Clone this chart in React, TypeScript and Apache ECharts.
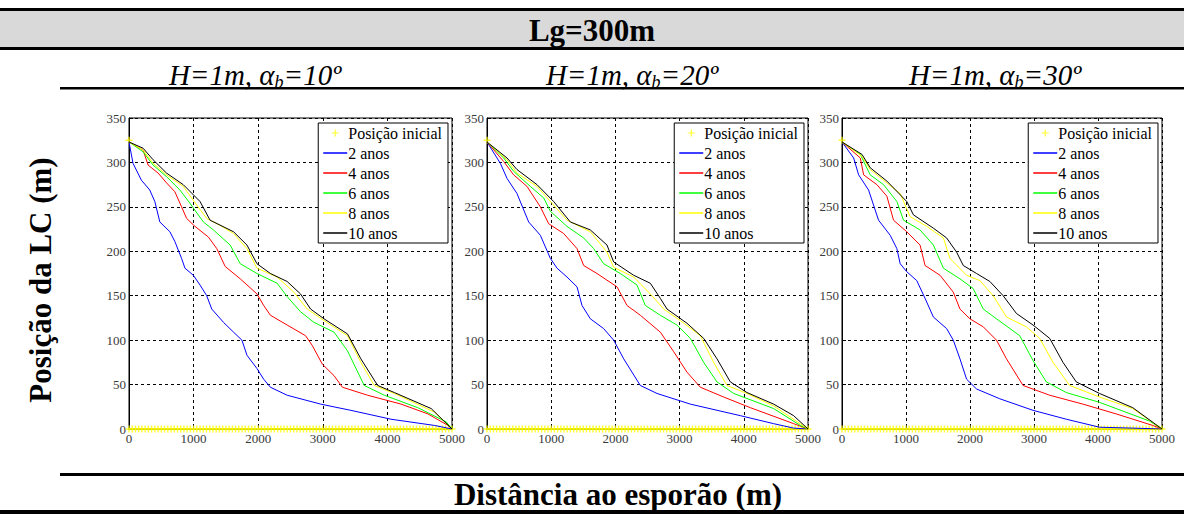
import React, { useEffect, useRef } from "react";
import * as echarts from "echarts";

// ---------- DATA ----------
const seriesNames = ["Posição inicial", "2 anos", "4 anos", "6 anos", "8 anos", "10 anos"];
const seriesColors = ["#ffff00", "#0000ff", "#ff0000", "#00ff00", "#ffff00", "#000000"];
const panelAngles = ["10º", "20º", "30º"];
const xTickMax = 5000;
const yTickMax = 350;

// initial shoreline: y = 0 along the whole domain, plus start point
const initialStep = 50;
const initialStart: number[] = [0, 325];

// Panel 1 : alpha_b = 10
const p1_2anos = [[0,323],[62,299],[192,280],[321,269],[400,256],[477,233],[633,222],[710,211],[814,192],[866,181],[996,173],[1100,162],[1203,150],[1281,135],[1463,120],[1618,109],[1748,100],[1826,83],[1981,68],[2085,56],[2189,47],[2448,38],[2967,28],[3434,21],[4056,11],[4730,4],[5000,0]];
const p1_4anos = [[0,323],[218,314],[296,297],[451,288],[581,277],[710,267],[814,250],[892,237],[1022,228],[1229,216],[1359,203],[1488,183],[1722,169],[1981,152],[2085,139],[2189,128],[2448,117],[2733,105],[2837,94],[2992,73],[3174,60],[3304,47],[3693,38],[4212,28],[4627,17],[4938,4],[5000,0]];
const p1_6anos = [[0,323],[218,312],[373,297],[581,284],[788,269],[944,254],[1151,233],[1307,224],[1566,207],[1722,186],[1981,175],[2293,164],[2448,149],[2655,132],[2863,120],[3174,109],[3382,88],[3641,49],[3952,38],[4471,24],[4912,8],[5000,0]];
const p1_8anos = [[0,323],[218,314],[373,299],[581,286],[840,273],[1048,252],[1203,237],[1437,228],[1618,220],[1826,203],[1981,181],[2293,171],[2552,154],[2759,135],[3019,122],[3382,105],[3589,75],[3797,49],[4108,40],[4730,19],[5000,0]];
const p1_10anos = [[0,323],[218,316],[373,303],[581,288],[840,275],[1100,256],[1255,235],[1618,222],[1826,207],[1981,186],[2189,175],[2448,166],[2655,152],[2811,135],[3019,124],[3382,107],[3589,79],[3849,49],[4108,41],[4678,23],[5000,0]];

// Panel 2 : alpha_b = 20
const p2_2anos = [[0,323],[208,299],[312,282],[467,265],[649,233],[831,218],[987,192],[1090,181],[1246,171],[1402,160],[1480,139],[1610,124],[1817,113],[1973,100],[2129,79],[2388,49],[2648,40],[3167,28],[3946,15],[4465,6],[4777,1],[5000,0]];
const p2_4anos = [[0,323],[260,301],[415,286],[623,273],[831,250],[961,231],[1194,220],[1402,203],[1506,184],[1713,175],[2025,160],[2181,139],[2388,128],[2700,109],[2908,87],[3115,64],[3323,47],[3686,36],[4102,24],[4777,6],[5000,0]];
const p2_6anos = [[0,323],[260,305],[415,290],[675,273],[883,260],[987,245],[1246,228],[1506,215],[1661,203],[1817,186],[2077,175],[2336,162],[2466,139],[2700,128],[2959,117],[3167,102],[3375,75],[3582,53],[3842,40],[4465,23],[4881,4],[5000,0]];
const p2_8anos = [[0,323],[312,303],[467,288],[779,273],[1038,252],[1246,235],[1610,222],[1869,199],[1973,182],[2285,171],[2544,152],[2752,135],[3011,122],[3323,105],[3530,75],[3738,49],[4050,40],[4465,26],[5000,0]];
const p2_10anos = [[0,323],[312,305],[467,292],[779,275],[1038,256],[1298,233],[1610,224],[1869,207],[1973,188],[2285,173],[2544,164],[2700,147],[2804,135],[3115,119],[3375,102],[3582,79],[3790,53],[4050,41],[4465,28],[4777,15],[5000,0]];

// Panel 3 : alpha_b = 30
const p3_2anos = [[0,323],[182,305],[260,286],[415,269],[571,235],[753,218],[857,203],[909,186],[1012,177],[1168,167],[1298,147],[1428,126],[1635,113],[1739,100],[1843,79],[1947,56],[2103,45],[2466,34],[2985,21],[3505,11],[4024,2],[4543,1],[5000,0]];
const p3_4anos = [[0,323],[286,305],[338,286],[545,275],[701,262],[805,235],[1012,222],[1220,207],[1298,184],[1532,173],[1739,154],[1843,135],[1999,124],[2207,115],[2414,100],[2570,79],[2829,49],[3245,38],[3764,28],[4284,17],[4855,4],[5000,0]];
const p3_6anos = [[0,323],[286,309],[441,286],[649,275],[857,256],[961,235],[1220,224],[1428,207],[1584,181],[1843,169],[2051,158],[2207,135],[2414,124],[2777,105],[2985,77],[3193,53],[3505,41],[4024,30],[4803,9],[5000,0]];
const p3_8anos = [[0,323],[312,307],[441,292],[701,277],[909,265],[1064,239],[1324,228],[1584,215],[1687,192],[1947,173],[2155,167],[2362,150],[2570,126],[2881,115],[3089,102],[3297,75],[3557,49],[4024,36],[4543,23],[5000,0]];
const p3_10anos = [[0,323],[312,309],[441,294],[701,279],[1012,256],[1116,241],[1428,226],[1635,215],[1791,199],[1895,184],[2103,175],[2311,166],[2518,150],[2726,130],[2985,117],[3245,102],[3453,75],[3660,53],[4024,40],[4543,24],[5000,0]];

const panelCurves = [
  [p1_2anos, p1_4anos, p1_6anos, p1_8anos, p1_10anos],
  [p2_2anos, p2_4anos, p2_6anos, p2_8anos, p2_10anos],
  [p3_2anos, p3_4anos, p3_6anos, p3_8anos, p3_10anos],
];

// ---------- LAYOUT ----------
const W = 1184;
const H = 514;
const grids = [
  { left: 129, width: 323 },
  { left: 487, width: 321 },
  { left: 842, width: 320 },
];
const gridTop = 118;
const gridHeight = 311;
const subtitleX = [255, 632, 995];
const serif = "Liberation Serif";
const plusPath = "path://M4,0H6V4H10V6H6V10H4V6H0V4H4Z";
// legend icons inside a 24x14 box (tiny corner dots fix the bounding box)
const boxDots = "M0,0H0.01V0.01H0Z M23.99,13.99H24V14H23.99Z ";
const lineIcon = "path://" + boxDots + "M0,6.2H24V7.8H0Z";
const plusIcon = "path://" + boxDots + "M8.5,6.4H15.5V7.6H8.5Z M11.4,3.5H12.6V10.5H11.4Z";

function buildInitial(): number[][] {
  const pts: number[][] = [initialStart];
  for (let x = 0; x <= xTickMax; x += initialStep) pts.push([x, 0]);
  return pts;
}

function measure(text: string, font: string): number {
  const c = document.createElement("canvas").getContext("2d");
  if (!c) return text.length * 10;
  c.font = font;
  return c.measureText(text).width;
}

function buildOption() {
  const initial = buildInitial();
  const xAxis: any[] = [];
  const yAxis: any[] = [];
  const grid: any[] = [];
  const legend: any[] = [];
  const series: any[] = [];
  const labelStyle = { fontFamily: serif, fontSize: 13, color: "#3a3a3a" };
  grids.forEach((g, i) => {
    grid.push({
      left: g.left,
      top: gridTop,
      width: g.width,
      height: gridHeight,
      show: true,
      borderColor: "#000",
      borderWidth: 1,
      backgroundColor: "#fff",
      z: 0,
    });
    xAxis.push({
      type: "value",
      gridIndex: i,
      min: 0,
      max: xTickMax,
      interval: 1000,
      axisLine: { show: true, lineStyle: { color: "#000", width: 1 } },
      axisTick: { show: true, inside: true, length: 4, lineStyle: { color: "#000" } },
      axisLabel: { ...labelStyle, margin: 3, formatter: (v: number) => String(v) },
      splitLine: { show: true, lineStyle: { color: "#000", type: [3, 3], width: 1 } },
    });
    yAxis.push({
      type: "value",
      gridIndex: i,
      min: 0,
      max: yTickMax,
      interval: 50,
      axisLine: { show: true, lineStyle: { color: "#000", width: 1 } },
      axisTick: { show: true, inside: true, length: 4, lineStyle: { color: "#000" } },
      axisLabel: { ...labelStyle, margin: 3, formatter: (v: number) => String(v) },
      splitLine: { show: true, lineStyle: { color: "#000", type: [3, 3], width: 1 } },
    });
    legend.push({
      data: seriesNames.map((n, k) => ({ name: n, icon: k === 0 ? plusIcon : lineIcon })),
      orient: "vertical",
      right: W - (g.left + g.width - 4),
      top: 123,
      backgroundColor: "#fff",
      borderColor: "#000",
      borderWidth: 1,
      borderRadius: 0,
      padding: [2, 6, 2, 5],
      itemGap: 4,
      itemWidth: 24,
      itemHeight: 14,
      selectedMode: false,
      textStyle: { fontFamily: serif, fontSize: 16, color: "#000", padding: [0, 0, 0, -4] },
    });
    series.push({
      name: seriesNames[0],
      type: "scatter",
      xAxisIndex: i,
      yAxisIndex: i,
      symbol: plusPath,
      symbolSize: 7,
      itemStyle: { color: seriesColors[0] },
      data: initial,
      z: 3,
    });
    panelCurves[i].forEach((curve, k) => {
      series.push({
        name: seriesNames[k + 1],
        type: "line",
        xAxisIndex: i,
        yAxisIndex: i,
        symbol: "none",
        showSymbol: false,
        lineStyle: { color: seriesColors[k + 1], width: 1 },
        itemStyle: { color: seriesColors[k + 1] },
        data: curve,
        z: 4 + k,
      });
    });
  });

  const titleFont = `bold 31px ${serif}`;
  const graphic: any[] = [
    { type: "rect", shape: { x: 0, y: 11, width: W, height: 36 }, style: { fill: "#d9d9d9" } },
    { type: "rect", shape: { x: 0, y: 8, width: W, height: 3 }, style: { fill: "#000" } },
    { type: "rect", shape: { x: 0, y: 47, width: W, height: 3 }, style: { fill: "#000" } },
    { type: "rect", shape: { x: 60, y: 87, width: W - 60, height: 2.5 }, style: { fill: "#000" } },
    { type: "rect", shape: { x: 60, y: 473, width: W - 60, height: 3 }, style: { fill: "#000" } },
    { type: "rect", shape: { x: 0, y: 510, width: W, height: 4 }, style: { fill: "#000" } },
    {
      type: "text",
      x: 592,
      y: 30,
      style: { text: "Lg=300m", font: titleFont, fill: "#000", align: "center", verticalAlign: "middle" },
    },
    {
      type: "text",
      x: 40,
      y: 280,
      rotation: Math.PI / 2,
      style: { text: "Posição da LC (m)", font: titleFont, fill: "#000", align: "center", verticalAlign: "middle" },
    },
    {
      type: "text",
      x: 618,
      y: 494,
      style: { text: "Distância ao esporão (m)", font: titleFont, fill: "#000", align: "center", verticalAlign: "middle" },
    },
  ];

  const mainFont = `italic 29px ${serif}`;
  const subFont = `italic 18px ${serif}`;
  subtitleX.forEach((cx, i) => {
    const p1 = "H=1m, α";
    const p2 = "b";
    const p3 = "=" + panelAngles[i];
    const w1 = measure(p1, mainFont);
    const w2 = measure(p2, subFont);
    const w3 = measure(p3, mainFont);
    const x0 = cx - (w1 + w2 + w3) / 2;
    const y0 = 75;
    graphic.push(
      { type: "text", x: x0, y: y0, style: { text: p1, font: mainFont, fill: "#000", align: "left", verticalAlign: "middle" } },
      { type: "text", x: x0 + w1, y: y0 + 7, style: { text: p2, font: subFont, fill: "#000", align: "left", verticalAlign: "middle" } },
      { type: "text", x: x0 + w1 + w2, y: y0, style: { text: p3, font: mainFont, fill: "#000", align: "left", verticalAlign: "middle" } }
    );
  });

  return {
    animation: false,
    backgroundColor: "#fff",
    grid,
    xAxis,
    yAxis,
    legend,
    series,
    graphic,
  };
}

export default function App() {
  const ref = useRef<HTMLDivElement>(null);
  useEffect(() => {
    if (!ref.current) return;
    const chart = echarts.init(ref.current, undefined, { renderer: "svg" });
    chart.setOption(buildOption() as any);
    return () => chart.dispose();
  }, []);
  return (
    <div
      ref={ref}
      style={{ position: "absolute", left: 0, top: 0, width: W, height: H, background: "#fff" }}
    />
  );
}
